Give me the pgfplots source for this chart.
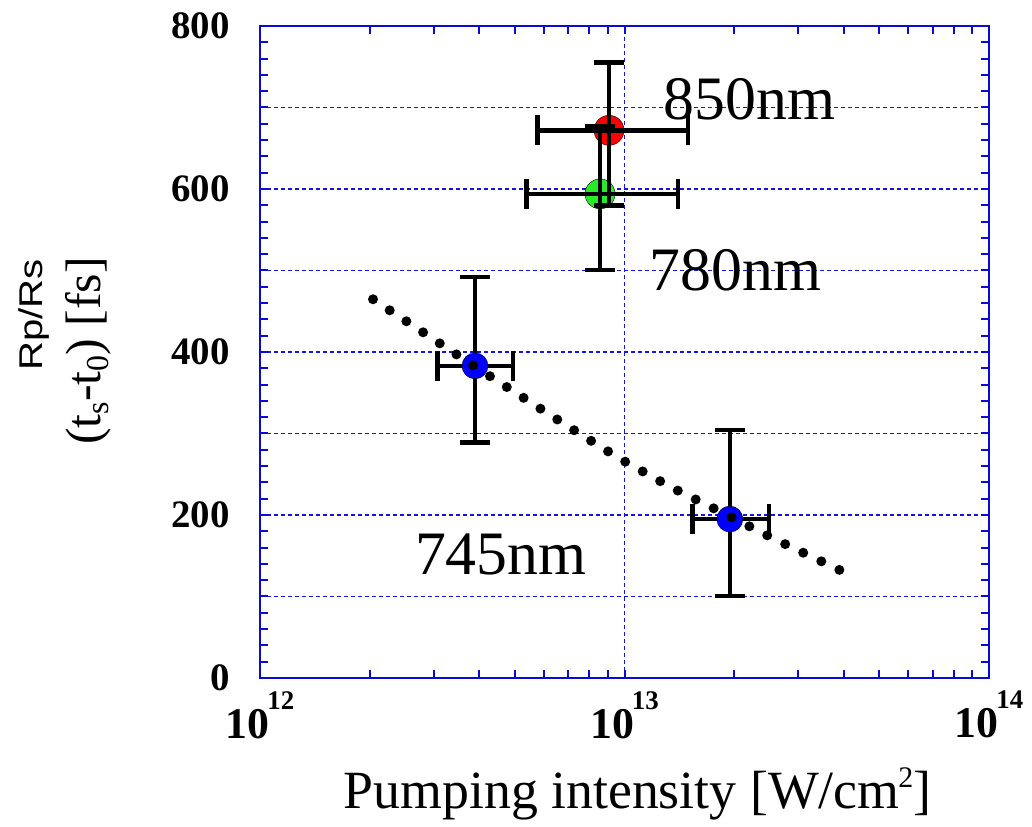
\documentclass[border=0pt]{standalone}
\usepackage{fontspec}
\setmainfont{Liberation Serif}
\newfontfamily\sansf{Liberation Sans}
\usepackage{pgfplots}
\pgfplotsset{compat=1.18}
\definecolor{axblue}{RGB}{10,10,215}
\definecolor{gridblue}{RGB}{20,20,230}
\definecolor{ptred}{RGB}{255,0,0}
\definecolor{ptgreen}{RGB}{40,235,40}
\definecolor{ptblue}{RGB}{0,0,255}
\newcommand{\xtl}[1]{\fontsize{44}{44}\selectfont\bfseries 10\kern-2bp\raisebox{29bp}{\fontsize{27}{27}\selectfont\bfseries #1}}
\pgfplotsset{
  layers/mylayers/.define layer set={axis background,axis grid,axis ticks,axis lines,axis tick labels,pre main,main,post main,top main,axis descriptions,axis foreground}{},
}
\begin{document}
\begin{tikzpicture}
\begin{axis}[
  set layers=mylayers,
  at={(0,0)}, anchor=south west,
  scale only axis, width=729bp, height=652bp,
  xmode=log, xmin=1e12, xmax=1e14,
  ymin=0, ymax=800,
  axis line style={axblue, line width=2.5bp},
  every tick/.style={axblue, line width=2bp},
  tick align=inside,
  major tick length=8bp, minor tick length=8bp,
  xtick={1e12,1e13,1e14},
  xticklabels={\xtl{12},\xtl{13},\xtl{14}},
  minor xtick={2e12,3e12,4e12,5e12,6e12,7e12,8e12,9e12,2e13,3e13,4e13,5e13,6e13,7e13,8e13,9e13},
  ytick={0,100,...,800},
  yticklabels={0,,200,,400,,600,,800},
  minor y tick num=4,
  xmajorgrids, ymajorgrids,
  major grid style={gridblue, line width=1.8bp, dash pattern=on 4bp off 3bp},
  yticklabel style={font=\fontsize{39}{39}\selectfont\bfseries, inner sep=0pt, anchor=east, xshift=-30bp},
  xticklabel style={inner sep=0pt, anchor=north, yshift=-13bp},
  clip=false,
]
% markers red / green (bars drawn over them)
\addplot[only marks, mark=*, mark size=15bp, mark options={draw=none, fill=ptred}] coordinates {(9.07e12,672)};
\addplot[only marks, mark=*, mark size=15bp, mark options={draw=none, fill=ptgreen}] coordinates {(8.57e12,594)};
% error bars
\pgfplotsset{ebar/.style={draw=none, mark=none, forget plot,
  error bars/.cd, x dir=both, x explicit, y dir=both, y explicit,
  error bar style={draw=black, line width=4.5bp},
  error mark=-,
  error mark options={rotate=90, draw=black, line width=4.5bp, mark size=15bp},
  /pgfplots/.cd}}
\addplot[on layer=post main, ebar] coordinates {(9.07e12,672) += (5.87e12,83) -= (3.29e12,92.5)};
\addplot[on layer=post main, ebar] coordinates {(8.57e12,594) += (5.43e12,82.4) -= (3.18e12,93.4)};
\addplot[ebar] coordinates {(3.89e12,383) += (1.06e12,109) -= (0.82e12,94.3)};
\addplot[ebar] coordinates {(1.946e13,195) += (0.547e13,109) -= (0.408e13,94.4)};
% blue markers
\addplot[only marks, mark=*, mark size=13bp, mark options={draw=none, fill=ptblue}] coordinates {(3.89e12,383) (1.946e13,195)};
% dotted fit line
\addplot[on layer=top main, black, line width=10bp, line cap=round, dash pattern=on 0bp off 20bp, mark=none] coordinates {
(2.042e12,464.7) (2.786e12,424.9) (3.767e12,386.1) (5.176e12,346.4) (7.063e12,307.6) (9.705e12,269.1)
(1.343e13,234.0) (1.871e13,202.1) (2.612e13,169.3) (3.639e13,138.7) (4.064e13,128.5)};
% annotations
\node[anchor=base west, inner sep=0pt, font=\fontsize{62}{62}\selectfont] at (axis cs:1.278e13,685.5) {850nm};
\node[anchor=base west, inner sep=0pt, font=\fontsize{62}{62}\selectfont] at (axis cs:1.17e13,476) {780nm};
\node[anchor=base west, inner sep=0pt, font=\fontsize{62}{62}\selectfont] at (axis cs:2.66e12,126.4) {745nm};
% axis labels
\node[anchor=base, inner sep=0pt, font=\fontsize{54}{54}\selectfont] at (rel axis cs:0.5178,-0.1994) {Pumping intensity [W/cm\kern-1bp\raisebox{21bp}{\fontsize{30}{30}\selectfont 2}]};
\node[rotate=90, inner sep=0pt, font=\fontsize{50}{50}\selectfont] at (rel axis cs:-0.2353,0.5015) {(t\raisebox{-8bp}{\fontsize{32}{32}\selectfont s}-t\raisebox{-8bp}{\fontsize{32}{32}\selectfont 0}) [fs]};
\node[rotate=90, inner sep=0pt, font=\sansf\fontsize{33}{33}\selectfont] at (rel axis cs:-0.310,0.5567) {\scalebox{1.22}[1]{Rp/Rs}};
\end{axis}
\pgfresetboundingbox
\path[use as bounding box] (-260bp,-149bp) rectangle (772bp,678bp);
\end{tikzpicture}
\end{document}
